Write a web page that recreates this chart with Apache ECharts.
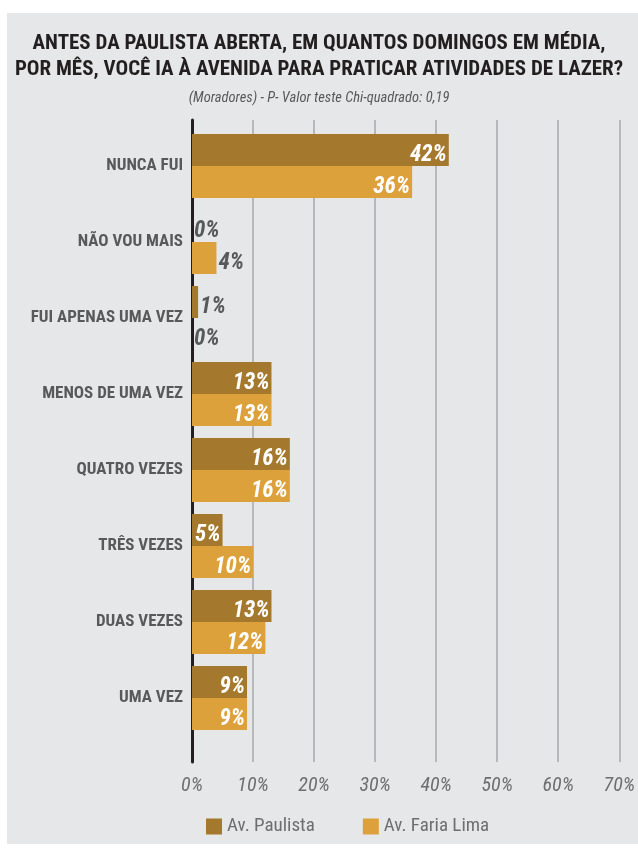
<!DOCTYPE html>
<html>
<head>
<meta charset="utf-8">
<script src="https://cdn.jsdelivr.net/npm/echarts@6/dist/echarts.min.js"></script>
<style>
  html, body { margin: 0; padding: 0; background: #fff; }
  #main { width: 638px; height: 851px; }
</style>
</head>
<body>
<div id="main"></div>
<script>
var myChart = echarts.init(document.getElementById('main'));

var font = '"Roboto Condensed", "Open Sans Condensed", sans-serif';

var categories = ['NUNCA FUI', 'NÃO VOU MAIS', 'FUI APENAS UMA VEZ', 'MENOS DE UMA VEZ',
                  'QUATRO VEZES', 'TRÊS VEZES', 'DUAS VEZES', 'UMA VEZ'];
var paulista = [42, 0, 1, 13, 16, 5, 13, 9];
var fariaLima = [36, 4, 0, 13, 16, 10, 12, 9];
var ticks = [0, 10, 20, 30, 40, 50, 60, 70];

// small values get their label outside the bar, in grey
function barData(values) {
    return values.map(function (v) {
        var small = v < 5;
        return {
            value: v,
            label: {
                position: small ? 'right' : 'insideRight',
                color: small ? '#58595b' : '#ffffff'
            }
        };
    });
}

var labelStyle = {
    show: true,
    formatter: '{c}%',
    fontFamily: font,
    fontStyle: 'italic',
    fontWeight: 'bold',
    fontSize: 23,
    distance: 2,
    offset: [0, 5]
};

var option = {
    backgroundColor: '#ffffff',
    graphic: [{
        type: 'rect',
        z: -100,
        shape: { x: 7, y: 13, width: 631, height: 831 },
        style: { fill: '#e6e7e9' }
    }],
    title: {
        text: 'ANTES DA PAULISTA ABERTA, EM QUANTOS DOMINGOS EM MÉDIA,\nPOR MÊS, VOCÊ IA À AVENIDA PARA PRATICAR ATIVIDADES DE LAZER?',
        subtext: '(Moradores) - P- Valor teste Chi-quadrado: 0,19',
        left: 'center',
        top: 26,
        itemGap: 8,
        textStyle: {
            fontFamily: font,
            fontWeight: 'bold',
            fontSize: 21,
            lineHeight: 26,
            color: '#231f20'
        },
        subtextStyle: {
            fontFamily: font,
            fontStyle: 'italic',
            fontSize: 14.5,
            color: '#58595b'
        }
    },
    legend: {
        left: 206,
        top: 817,
        padding: 0,
        itemWidth: 16,
        itemHeight: 16,
        itemGap: 48,
        icon: 'rect',
        textStyle: {
            fontFamily: font,
            fontSize: 19,
            color: '#6d6e70'
        },
        data: ['Av. Paulista', 'Av. Faria Lima']
    },
    grid: [
        { left: 192, right: 18, top: 120, bottom: 89 },
        { left: 192, right: 18, top: 128, bottom: 115 }
    ],
    xAxis: [{
        gridIndex: 0,
        type: 'value',
        min: 0,
        max: 70,
        interval: 10,
        axisLine: { show: false },
        axisTick: { show: false },
        splitLine: { lineStyle: { color: '#a7a9ac', width: 1.5 } },
        axisLabel: {
            formatter: function (v) { return ticks.indexOf(v) >= 0 ? v + '%' : ''; },
            margin: 14,
            fontFamily: font,
            fontStyle: 'italic',
            fontSize: 20,
            color: '#6d6e70'
        }
    }, {
        gridIndex: 1,
        type: 'value',
        min: 0,
        max: 70,
        show: false
    }],
    yAxis: [{
        gridIndex: 0,
        type: 'value',
        min: 0,
        max: 1,
        axisLabel: { show: false },
        axisTick: { show: false },
        splitLine: { show: false },
        axisLine: { show: true, lineStyle: { color: '#231f20', width: 3 } }
    }, {
        gridIndex: 1,
        type: 'category',
        inverse: true,
        data: categories,
        axisLine: { show: false },
        axisTick: { show: false },
        axisLabel: {
            margin: 9,
            fontFamily: font,
            fontWeight: 'bold',
            fontSize: 17,
            color: '#58595b'
        }
    }],
    series: [{
        name: 'Av. Paulista',
        type: 'bar',
        xAxisIndex: 1,
        yAxisIndex: 1,
        barWidth: 32,
        barGap: '0%',
        itemStyle: { color: '#a5792d' },
        label: labelStyle,
        data: barData(paulista)
    }, {
        name: 'Av. Faria Lima',
        type: 'bar',
        xAxisIndex: 1,
        yAxisIndex: 1,
        barWidth: 32,
        barGap: '0%',
        itemStyle: { color: '#dca13a' },
        label: labelStyle,
        data: barData(fariaLima)
    }]
};

myChart.setOption(option);
</script>
</body>
</html>
